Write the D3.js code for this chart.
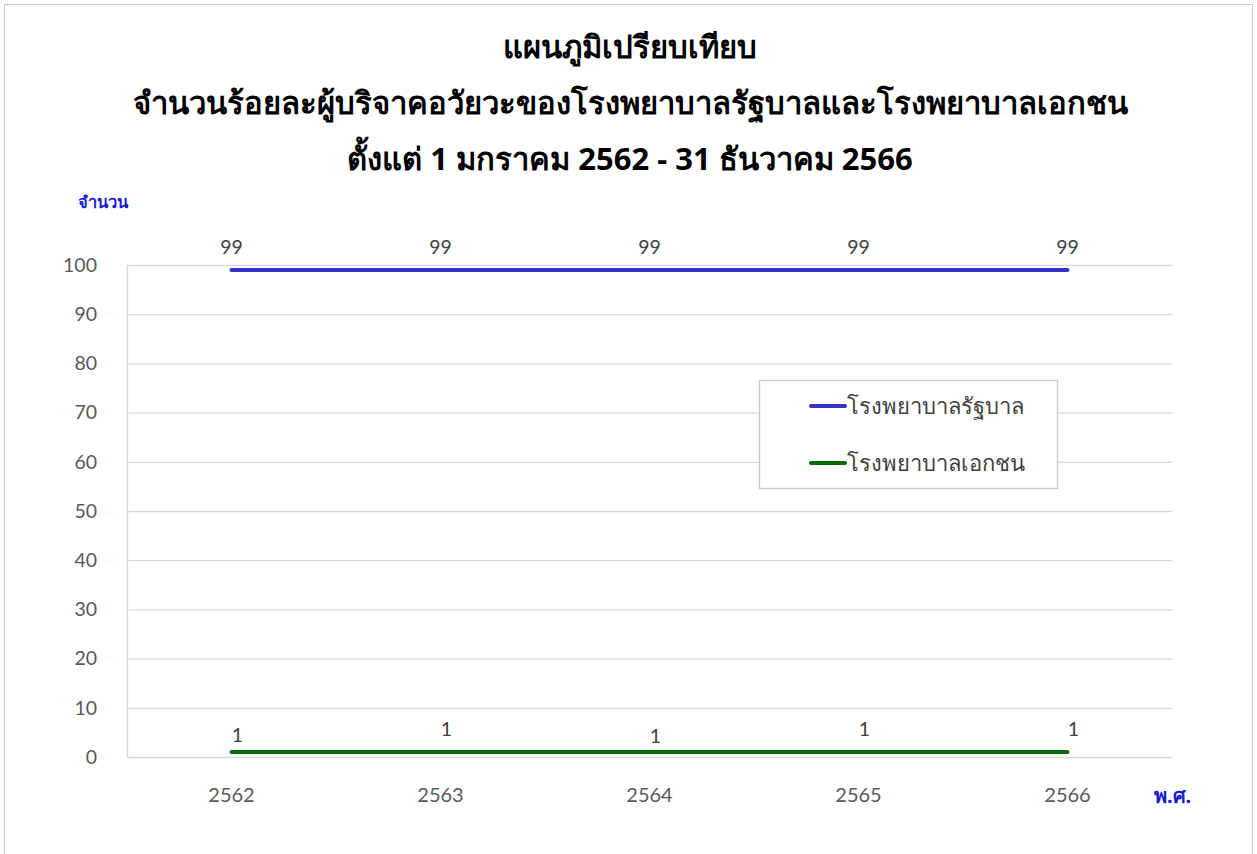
<!DOCTYPE html>
<html>
<head>
<meta charset="utf-8">
<script src="https://cdn.jsdelivr.net/npm/d3@7"></script>
<style>
  body { margin: 0; background: #fff; }
  svg { display: block; font-family: "Noto Sans", "DejaVu Sans", sans-serif; }
</style>
</head>
<body>
<svg width="1257" height="854"></svg>
<script>
// data
const years = ["2562", "2563", "2564", "2565", "2566"]
const govValues = [99, 99, 99, 99, 99]
const privValues = [1, 1, 1, 1, 1]
const seriesNames = ["โรงพยาบาลรัฐบาล", "โรงพยาบาลเอกชน"]
const yTicks = [0, 10, 20, 30, 40, 50, 60, 70, 80, 90, 100]
const titleLines = [
  "แผนภูมิเปรียบเทียบ",
  "จำนวนร้อยละผู้บริจาคอวัยวะของโรงพยาบาลรัฐบาลและโรงพยาบาลเอกชน",
  "ตั้งแต่ 1 มกราคม 2562 - 31 ธันวาคม 2566"
]

const colors = ["#3333cc", "#006b00"]

var svg = d3.select("svg"),
  width = +svg.attr("width"),
  height = +svg.attr("height");

// outer frame
svg.append("rect")
  .attr("x", 4.5).attr("y", 4.5)
  .attr("width", width - 9).attr("height", height)
  .attr("fill", "none")
  .attr("stroke", "#c8c8c8")

const plot = { left: 127, right: 1172, top: 265, bottom: 757 }

let x = d3.scaleBand().domain(years).range([plot.left, plot.right])
let y = d3.scaleLinear().domain([0, 100]).range([plot.bottom, plot.top])

// title
svg.append("g").selectAll("text")
  .data(titleLines)
  .enter()
  .append("text")
  .attr("x", 630)
  .attr("y", (d, i) => 58 + i * 56)
  .attr("text-anchor", "middle")
  .attr("font-size", 31)
  .attr("font-weight", "bold")
  .attr("fill", "#000")
  .text(d => d)

// gridlines
svg.append("g")
  .selectAll("line")
  .data(yTicks)
  .enter()
  .append("line")
  .attr("x1", plot.left).attr("x2", plot.right)
  .attr("y1", d => y(d) + 0.5).attr("y2", d => y(d) + 0.5)
  .attr("stroke", "#d9d9d9")
  .attr("stroke-width", 1.3)

// left axis line
svg.append("line")
  .attr("x1", plot.left + 0.5).attr("x2", plot.left + 0.5)
  .attr("y1", plot.top).attr("y2", plot.bottom)
  .attr("stroke", "#d9d9d9")
  .attr("stroke-width", 1.3)

// y axis
let yAxis = svg.append("g")
  .attr("transform", `translate(${plot.left},0)`)
  .call(d3.axisLeft(y).tickValues(yTicks).tickSize(0).tickPadding(30))
yAxis.select(".domain").remove()
yAxis.selectAll("text")
  .attr("font-size", 19.5)
  .attr("fill", "#595959")
  .attr("font-family", "Lato, 'Open Sans', sans-serif")

// x axis
let xAxis = svg.append("g")
  .attr("transform", `translate(0,${plot.bottom})`)
  .call(d3.axisBottom(x).tickSize(0).tickPadding(31))
xAxis.select(".domain").remove()
xAxis.selectAll("text")
  .attr("font-size", 20)
  .attr("fill", "#595959")
  .attr("font-family", "Lato, 'Open Sans', sans-serif")

// axis titles
svg.append("text")
  .attr("x", 78).attr("y", 208)
  .attr("font-size", 16.5)
  .attr("font-weight", "bold")
  .attr("fill", "#1a1ad6")
  .text("จำนวน")
svg.append("text")
  .attr("x", 1154).attr("y", 803)
  .attr("font-size", 20).attr("font-weight", "bold")
  .attr("fill", "#1a1ad6")
  .text("พ.ศ.")

// lines
let line = d3.line()
  .x((d, i) => x(years[i]) + x.bandwidth() / 2)
  .y(d => y(d))

let series = [govValues, privValues]

svg.append("g")
  .selectAll("path")
  .data(series)
  .enter()
  .append("path")
  .attr("d", line)
  .attr("fill", "none")
  .attr("stroke", (d, i) => colors[i])
  .attr("stroke-width", 4)
  .attr("stroke-linecap", "round")

// data labels
const labelOffsets = [[-16, -16, -16, -16, -16], [-10, -16, -9, -16, -16]]
series.forEach((vals, s) => {
  svg.append("g")
    .selectAll("text")
    .data(vals)
    .enter()
    .append("text")
    .attr("x", (d, i) => x(years[i]) + x.bandwidth() / 2 + (s === 1 ? 6 : 0))
    .attr("y", (d, i) => y(d) + labelOffsets[s][i])
    .attr("text-anchor", "middle")
    .attr("font-size", 19.5)
    .attr("fill", "#404040")
    .attr("font-family", "Lato, 'Open Sans', sans-serif")
    .text(d => d)
})

// legend
let legend = svg.append("g")
legend.append("rect")
  .attr("x", 759.5).attr("y", 380.5)
  .attr("width", 298).attr("height", 108)
  .attr("fill", "#fff")
  .attr("stroke", "#c8c8c8")
  .attr("stroke-width", 1.3)

let items = legend.selectAll("g.item")
  .data(seriesNames)
  .enter()
  .append("g")
  .attr("class", "item")
  .attr("transform", (d, i) => `translate(811,${406 + i * 57})`)
items.append("line")
  .attr("x1", 0).attr("x2", 34)
  .attr("stroke", (d, i) => colors[i])
  .attr("stroke-width", 4)
  .attr("stroke-linecap", "round")
items.append("text")
  .attr("x", 36).attr("y", 8)
  .attr("font-size", 22)
  .attr("fill", "#404040")
  .text(d => d)
</script>
</body>
</html>
